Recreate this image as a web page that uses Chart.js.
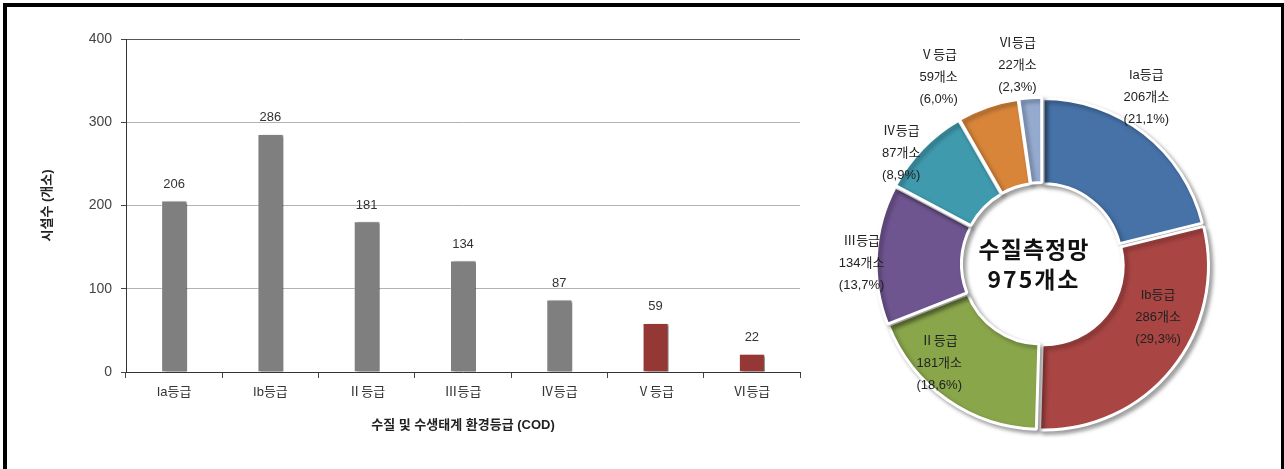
<!DOCTYPE html>
<html>
<head>
<meta charset="utf-8">
<script src="https://cdn.jsdelivr.net/npm/chart.js@4.4.1/dist/chart.umd.min.js"></script>
<style>
    body { margin: 0; background: #fff; overflow: hidden; }
    .frame { position: absolute; left: 3px; top: 3px; width: 1274px; height: 480px; border: 4px solid #000; }
    .box { position: absolute; top: 0; height: 469px; }
    .bar-box { left: 0; width: 820px; }
    .pie-box { left: 830px; width: 450px; }
</style>
</head>
<body>
<div class="frame"></div>
<div class="box bar-box"><canvas id="barChart"></canvas></div>
<div class="box pie-box"><canvas id="pieChart"></canvas></div>
<script>
// shortcut for selecting a DOM element
const c = (e) => document.querySelector(e);

// data
const grades = ['Ia등급', 'Ib등급', 'Ⅱ등급', 'Ⅲ등급', 'Ⅳ등급', 'Ⅴ등급', 'Ⅵ등급'];
const counts = [206, 286, 181, 134, 87, 59, 22];
const percents = ['21,1', '29,3', '18,6', '13,7', '8,9', '6,0', '2,3'];
const yTicks = [0, 100, 200, 300, 400];
const totalLabel = ['수질측정망', '975개소'];

const FONT = '"Liberation Sans", "Noto Sans CJK KR", sans-serif';
const barColors = ['#7f7f7f', '#7f7f7f', '#7f7f7f', '#7f7f7f', '#7f7f7f', '#953735', '#953735'];
const pieColors = ['#4672a8', '#a94543', '#8aa64b', '#6f5590', '#3f9aae', '#d8853a', '#94aacf'];
const pieOffsets = [7, 12, 6, 6, 6, 6, 6];
// label placement around the ring (radius factor, angle turn in degrees)
const labelRadius = [1.2, 0.78, 0.87, 1.1, 1.09, 1.3, 1.22];
const labelTurn = [-6, -14, 11, -3, -6, -10, -3];

// soft drop shadow under bars and slices
const shadowPlugin = {
    id: 'shadow',
    beforeDatasetsDraw(chart, args, opts) {
        const ctx = chart.ctx;
        ctx.save();
        ctx.shadowColor = opts.color;
        ctx.shadowBlur = opts.blur;
        ctx.shadowOffsetX = opts.x;
        ctx.shadowOffsetY = opts.y;
    },
    afterDatasetsDraw(chart) {
        chart.ctx.restore();
    }
};

// values above bars
const barLabels = {
    id: 'barLabels',
    afterDraw(chart) {
        const ctx = chart.ctx;
        ctx.save();
        ctx.font = '13px ' + FONT;
        ctx.fillStyle = '#333';
        ctx.textAlign = 'center';
        ctx.textBaseline = 'middle';
        chart.getDatasetMeta(0).data.forEach((bar, i) => {
            ctx.fillText(counts[i], bar.x, bar.y - 16);
        });
        ctx.restore();
    }
};

// labels round the doughnut and the total in the hole
const pieLabels = {
    id: 'pieLabels',
    afterDraw(chart) {
        const ctx = chart.ctx;
        const arcs = chart.getDatasetMeta(0).data;
        ctx.save();
        ctx.fillStyle = '#222';
        ctx.textAlign = 'center';
        ctx.textBaseline = 'middle';
        ctx.font = '13px ' + FONT;
        arcs.forEach((arc, i) => {
            const p = arc.getProps(['x', 'y', 'startAngle', 'endAngle', 'outerRadius'], true);
            const mid = (p.startAngle + p.endAngle) / 2 + labelTurn[i] * Math.PI / 180;
            const r = p.outerRadius * labelRadius[i];
            const lx = p.x + Math.cos(mid) * r;
            const ly = p.y + Math.sin(mid) * r;
            const lines = [grades[i], counts[i] + '개소', '(' + percents[i] + '%)'];
            lines.forEach((t, j) => ctx.fillText(t, lx, ly + (j - 1) * 22));
        });
        const cx = arcs[0].x - 8;
        const cy = arcs[0].y;
        ctx.fillStyle = '#111';
        ctx.letterSpacing = '1px';
        ctx.font = 'bold 23px "Noto Sans CJK KR", sans-serif';
        ctx.fillText(totalLabel[0], cx, cy - 15);
        ctx.letterSpacing = '2px';
        ctx.font = 'bold 23px "Noto Sans CJK KR", sans-serif';
        ctx.fillText(totalLabel[1], cx, cy + 15);
        ctx.restore();
    }
};

// bar chart
new Chart(c('#barChart'), {
    type: 'bar',
    data: {
        labels: grades,
        datasets: [{
            data: counts,
            backgroundColor: barColors,
            borderColor: 'rgba(255,255,255,0.35)',
            borderWidth: 1,
            categoryPercentage: 1,
            barPercentage: 0.27
        }]
    },
    plugins: [shadowPlugin, barLabels],
    options: {
        responsive: true,
        maintainAspectRatio: false,
        animation: false,
        layout: { padding: { left: 0, right: 20, top: 39, bottom: 0 } },
        plugins: {
            legend: { display: false },
            tooltip: { enabled: false },
            shadow: { color: 'rgba(0,0,0,0.5)', blur: 2, x: 3, y: 1 }
        },
        scales: {
            x: {
                grid: { drawOnChartArea: false, drawTicks: true, tickLength: 6, tickColor: '#444' },
                border: { display: true, color: '#333', width: 1 },
                ticks: { color: '#333', font: { size: 13, family: FONT }, padding: 7 },
                title: {
                    display: true,
                    text: '수질 및 수생태계 환경등급 (COD)',
                    color: '#222',
                    font: { size: 13, weight: 'bold', family: FONT },
                    padding: { top: 0, bottom: 36 }
                },
                afterFit(scale) { scale.height = 97; }
            },
            y: {
                min: 0,
                max: 400,
                afterBuildTicks(scale) { scale.ticks = yTicks.map(v => ({ value: v })); },
                grid: {
                    color: (ctx) => ctx.tick && ctx.tick.value === 400 ? '#555' : '#b3b3b3',
                    tickColor: '#444',
                    tickLength: 5
                },
                border: { display: true, color: '#333', width: 1 },
                ticks: { color: '#444', font: { size: 14, family: FONT }, padding: 9 },
                title: {
                    display: true,
                    text: '시설수 (개소)',
                    color: '#222',
                    font: { size: 13, weight: 'bold', family: FONT },
                    padding: { top: 40, bottom: 0 }
                },
                afterFit(scale) { scale.width = 126; }
            }
        }
    }
});

// doughnut chart
new Chart(c('#pieChart'), {
    type: 'doughnut',
    data: {
        labels: grades,
        datasets: [{
            data: counts,
            backgroundColor: pieColors,
            borderColor: '#fff',
            borderWidth: 3,
            offset: pieOffsets
        }]
    },
    plugins: [shadowPlugin, pieLabels],
    options: {
        responsive: true,
        maintainAspectRatio: false,
        animation: false,
        radius: 164,
        cutout: '48%',
        layout: { padding: { left: 0, right: 26, top: 59, bottom: 0 } },
        plugins: {
            legend: { display: false },
            tooltip: { enabled: false },
            shadow: { color: 'rgba(0,0,0,0.35)', blur: 4, x: 3, y: 3 }
        }
    }
});
</script>
</body>
</html>
